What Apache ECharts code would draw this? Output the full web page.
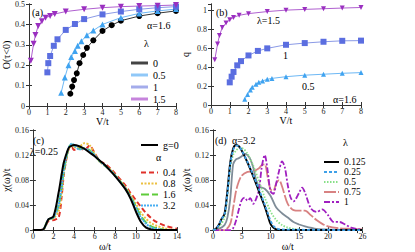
<!DOCTYPE html>
<html><head><meta charset="utf-8">
<script src="https://cdn.jsdelivr.net/npm/echarts@6/dist/echarts.min.js"></script>
<style>html,body{margin:0;padding:0;background:#fff}#c{width:415px;height:252px}</style>
</head><body><div id="c"></div>
<script>
// ---- Panel (a): O(tau<0) vs V/t ----
const aV0 = [2.25,2.35,2.45,2.6,2.75,2.95,3.15,3.5,4,4.5,5,6,7,8];
const aO0 = [0.06,0.095,0.127,0.16,0.21,0.25,0.285,0.322,0.368,0.396,0.418,0.441,0.455,0.466];
const aV05 = [1.75,1.95,2.15,2.3,2.5,2.65,2.85,3.15,3.5,4,5,6,7,8];
const aO05 = [0.065,0.14,0.2,0.24,0.27,0.295,0.318,0.347,0.37,0.4,0.433,0.454,0.466,0.475];
const aV1 = [1,1.05,1.15,1.35,1.55,2,2.5,3,4,5,6,7,8];
const aO1 = [0.165,0.21,0.245,0.295,0.327,0.373,0.402,0.426,0.449,0.463,0.474,0.482,0.487];
const aV15 = [0.1,0.25,0.35,0.5,0.7,0.9,1.15,1.4,2,3,4,5,6,7,8];
const aO15 = [0.222,0.305,0.348,0.392,0.416,0.433,0.441,0.451,0.463,0.474,0.482,0.487,0.49,0.492,0.495];
// ---- Panel (b): q vs V/t ----
const bV15 = [0.2,0.35,0.45,0.6,0.8,1,1.2,1.5,2,3,4,5,6,7,8];
const bQ15 = [0.48,0.645,0.737,0.82,0.868,0.903,0.928,0.95,0.968,0.99,1.005,1.013,1.02,1.027,1.033];
const bV1 = [1,1.1,1.2,1.4,1.6,2,2.5,3,4,5,6,7,8];
const bQ1 = [0.24,0.3,0.35,0.42,0.465,0.525,0.573,0.6,0.638,0.656,0.67,0.68,0.682];
const bV05 = [1.8,1.95,2.1,2.2,2.4,2.55,2.75,3,3.25,4,5,6,7,8];
const bQ05 = [0.06,0.112,0.16,0.188,0.22,0.24,0.255,0.272,0.282,0.3,0.316,0.326,0.336,0.343];
// ---- Panel (c): chi(omega)/t, lambda=0.25 ----
const cW = [0,0.5,1,1.5,2,2.5,2.8,3,3.3,3.5,3.8,4,4.5,5,5.5,6,6.5,7,7.5,8,9,9.5,10,10.5,11,11.5,12,13,14];
const cG0 = [0,0,0.001,0.017,0.022,0.06,0.09,0.108,0.124,0.132,0.135,0.136,0.134,0.13,0.124,0.118,0.111,0.104,0.095,0.086,0.065,0.05,0.03,0.013,0.004,0.001,0,0,0];
const cA04 = [0,0,0.001,0.014,0.016,0.02,0.055,0.088,0.118,0.13,0.132,0.128,0.131,0.128,0.135,0.123,0.11,0.106,0.099,0.09,0.071,0.059,0.048,0.037,0.027,0.019,0.013,0.006,0.002];
const cA08 = [0,0,0.001,0.016,0.019,0.03,0.06,0.09,0.118,0.13,0.134,0.132,0.133,0.139,0.136,0.122,0.109,0.103,0.097,0.088,0.068,0.056,0.042,0.028,0.018,0.011,0.007,0.002,0];
const cA16 = [0,0,0.001,0.017,0.02,0.04,0.07,0.095,0.12,0.132,0.137,0.135,0.13,0.131,0.128,0.12,0.11,0.103,0.096,0.087,0.067,0.053,0.038,0.022,0.012,0.006,0.003,0,0];
const cA32 = [0,0,0.001,0.017,0.02,0.04,0.07,0.095,0.121,0.133,0.138,0.136,0.129,0.13,0.127,0.12,0.11,0.103,0.096,0.087,0.066,0.052,0.036,0.02,0.01,0.004,0.002,0,0];
// ---- Panel (d): chi(omega)/t, alpha=3.2 ----
const dW0125 = [0,0.5,1,1.5,2,2.5,3,3.5,4,4.5,5,6,7,8,9,9.5,10,10.5,11,12,26];
const dC0125 = [0,0.002,0.008,0.018,0.026,0.062,0.108,0.13,0.136,0.134,0.127,0.108,0.086,0.062,0.038,0.024,0.01,0.004,0.001,0,0];
const dC025 = [0,0.002,0.008,0.018,0.025,0.058,0.105,0.128,0.135,0.134,0.127,0.109,0.088,0.065,0.041,0.028,0.015,0.007,0.003,0.001,0];
const dW05 = [0,1,2,2.5,3,3.5,4,4.5,5,6,7,8,9,10,11,12,13,14,16,26];
const dC05 = [0,0.005,0.02,0.055,0.1,0.12,0.127,0.131,0.131,0.122,0.103,0.078,0.052,0.03,0.016,0.008,0.004,0.002,0,0];
const dWg = [0,1,2,2.5,3,3.5,4,4.5,5,5.5,6,6.5,7,7.5,8,9,10,11,12,13,14,15,16,18,20,26];
const dCg = [0,0.002,0.008,0.02,0.05,0.105,0.113,0.115,0.118,0.122,0.12,0.113,0.1,0.08,0.07,0.066,0.055,0.036,0.027,0.02,0.013,0.009,0.006,0.002,0.001,0];
const dW075 = [0,2,3,3.5,4,4.5,5,6,7,8,8.5,9,9.5,10,10.5,11,11.5,12,13,14,15,16,17,18,19,20,22,24,26];
const dC075 = [0,0,0.01,0.035,0.062,0.078,0.087,0.093,0.094,0.099,0.104,0.105,0.085,0.065,0.063,0.075,0.08,0.07,0.042,0.032,0.031,0.031,0.024,0.016,0.01,0.006,0.003,0.002,0.001];
const dW1 = [0,3,3.5,4,4.5,5,5.5,6,6.5,7,7.5,8,8.5,9,9.5,10,10.5,11,11.5,12,12.5,13,13.5,14,15,15.5,16,17,18,19,20,21,22,23,24,25,26];
const dC1 = [0,0,0.003,0.015,0.033,0.048,0.052,0.047,0.051,0.042,0.05,0.065,0.102,0.12,0.095,0.062,0.058,0.075,0.095,0.11,0.1,0.072,0.052,0.046,0.06,0.068,0.06,0.035,0.029,0.033,0.024,0.013,0.013,0.009,0.004,0.002,0.001];

const F = 'Liberation Serif';
const zip = (a, b) => a.map((v, i) => [v, b[i]]);

const grids = [
  {left: 29, top: 4, width: 147, height: 102},
  {left: 211, top: 4, width: 150, height: 101},
  {left: 29, top: 130, width: 148, height: 102},
  {left: 213, top: 130, width: 149.5, height: 102}
];
const axLine = {lineStyle: {color: '#333', width: 1}};
const tick = {inside: true, length: 3, lineStyle: {color: '#333'}};
function xPair(g, min, max, interval, name) {
  return [
    {type: 'value', gridIndex: g, min, max, interval, position: 'bottom',
     name, nameLocation: 'middle', nameGap: 9,
     nameTextStyle: {fontFamily: F, fontSize: 10, color: '#000'},
     axisLine: axLine, axisTick: tick, splitLine: {show: false},
     axisLabel: {fontFamily: F, fontSize: 8, color: '#222', margin: 2, showMinLabel: true, showMaxLabel: true}},
    {type: 'value', gridIndex: g, min, max, interval, position: 'top',
     axisLine: axLine, axisTick: tick, splitLine: {show: false}, axisLabel: {show: false}}
  ];
}
function yPair(g, min, max, interval, name, gap, extra) {
  return [
    {type: 'value', gridIndex: g, min, max, interval, position: 'left',
     name, nameLocation: 'middle', nameGap: gap, nameRotate: 90,
     nameTextStyle: {fontFamily: F, fontSize: 10, color: '#000'},
     axisLine: axLine, axisTick: tick, splitLine: {show: false},
     axisLabel: Object.assign({fontFamily: F, fontSize: 8, color: '#222', margin: 4}, extra || {})},
    {type: 'value', gridIndex: g, min, max, interval, position: 'right',
     axisLine: axLine, axisTick: tick, splitLine: {show: false}, axisLabel: {show: false}}
  ];
}

function mk(g, name, xs, ys, lineColor, markColor, symbol, size, rot) {
  return {type: 'line', name, xAxisIndex: 2 * g, yAxisIndex: 2 * g, data: zip(xs, ys),
    symbol, symbolSize: size, symbolRotate: rot || 0, showSymbol: true,
    lineStyle: {color: lineColor, width: 1}, itemStyle: {color: markColor}, z: 3};
}
function cv(g, name, xs, ys, color, width, dash) {
  return {type: 'line', name, xAxisIndex: 2 * g, yAxisIndex: 2 * g, data: zip(xs, ys),
    symbol: 'none', smooth: 0.3, lineStyle: {color, width, type: dash || 'solid'},
    itemStyle: {color}};
}

const series = [
  mk(0, 'a:0', aV0, aO0, '#333', '#000', 'circle', 6),
  mk(0, 'a:0.5', aV05, aO05, '#6db8f5', '#3fa3f0', 'triangle', 6),
  mk(0, 'a:1', aV1, aO1, '#8b9ae6', '#5b6ee0', 'rect', 6),
  mk(0, 'a:1.5', aV15, aO15, '#b060d0', '#9a2fc0', 'triangle', 6, 180),
  mk(1, 'b:1.5', bV15, bQ15, '#b060d0', '#9a2fc0', 'triangle', 5, 180),
  mk(1, 'b:1', bV1, bQ1, '#8b9ae6', '#5b6ee0', 'rect', 6),
  mk(1, 'b:0.5', bV05, bQ05, '#6db8f5', '#3fa3f0', 'triangle', 5),
  cv(2, 'c:0.4', cW, cA04, '#e0302a', 2, [5, 3]),
  cv(2, 'c:0.8', cW, cA08, '#ecc040', 2, [2, 1.5]),
  cv(2, 'c:1.6', cW, cA16, '#5ecc3a', 2, [8, 3]),
  cv(2, 'c:3.2', cW, cA32, '#48aef2', 2, [2, 1]),
  cv(2, 'c:g=0', cW, cG0, '#000', 2),
  cv(3, 'd:0.6', dWg, dCg, '#7f8c98', 1.8),
  cv(3, 'd:0.75', dW075, dC075, '#d88282', 1.8, [12, 2]),
  cv(3, 'd:1', dW1, dC1, '#a020c0', 1.8, [6, 2, 2, 2]),
  cv(3, 'd:0.5', dW05, dC05, '#88e088', 1.8, [1.5, 1.5]),
  cv(3, 'd:0.125', dW0125, dC0125, '#000', 2),
  cv(3, 'd:0.25', dW0125, dC025, '#3ea0e8', 1.8, [3, 2])
];

const lt = {fontFamily: F, fontSize: 10, color: '#000'};
const fmt = n => n.split(':')[1];
const legends = [
  {left: 126, top: 52, orient: 'vertical', icon: 'rect', itemWidth: 17, itemHeight: 3, itemGap: 0,
   textStyle: Object.assign({lineHeight: 12}, lt), formatter: fmt, selectedMode: false,
   data: [{name: 'a:0', itemStyle: {color: '#444'}}, {name: 'a:0.5', itemStyle: {color: '#90c8f8'}},
          {name: 'a:1', itemStyle: {color: '#a4aceb'}}, {name: 'a:1.5', itemStyle: {color: '#c684dc'}}]},
  {left: 135, top: 134, orient: 'vertical', itemWidth: 17, itemHeight: 1, itemGap: 0,
   itemStyle: {opacity: 0},
   textStyle: Object.assign({lineHeight: 12}, lt), formatter: fmt, selectedMode: false, data: ['c:g=0']},
  {left: 135, top: 162, orient: 'vertical', itemWidth: 17, itemHeight: 1, itemGap: 0,
   itemStyle: {opacity: 0},
   textStyle: Object.assign({lineHeight: 11}, lt), formatter: fmt, selectedMode: false,
   data: ['c:0.4', 'c:0.8', 'c:1.6', 'c:3.2']},
  {left: 318, top: 152, orient: 'vertical', itemWidth: 15, itemHeight: 1, itemGap: 0,
   itemStyle: {opacity: 0},
   textStyle: {fontFamily: F, fontSize: 9.5, color: '#000', lineHeight: 9.8}, formatter: fmt, selectedMode: false,
   data: ['d:0.125', 'd:0.25', 'd:0.5', 'd:0.75', 'd:1']}
];

function t(text, x, y, size) {
  return {type: 'text', x, y, style: {text, fill: '#000', font: (size || 10) + 'px "Liberation Serif"', textVerticalAlign: 'middle', textAlign: 'left'}, z: 10};
}
const graphics = [
  t('(a)', 32, 12), t('α=1.6', 147, 25), t('λ', 144, 43),
  t('(b)', 216, 12), t('λ=1.5', 257, 20), t('1', 283, 55), t('0.5', 302, 86), t('α=1.6', 333, 99),
  t('(c)', 33, 140), t('λ=0.25', 30, 151), t('α', 156, 157),
  t('(d)', 215, 140), t('α=3.2', 232, 140), t('λ', 343, 142)
];

const chart = echarts.init(document.getElementById('c'), null, {renderer: 'svg', width: 415, height: 252});
chart.setOption({
  animation: false,
  grid: grids,
  xAxis: [].concat(xPair(0, 0, 8, 1, 'V/t'), xPair(1, 0, 8, 1, 'V/t'), xPair(2, 0, 14, 2, 'ω/t'), xPair(3, 0, 26, 5, 'ω/t')),
  yAxis: [].concat(yPair(0, 0, 0.5, 0.1, 'O(τ<0)', 16), yPair(1, 0, 1.07, 0.2, 'q', 21, {showMaxLabel: false}),
                   yPair(2, 0, 0.16, 0.04, 'χ(ω)/t', 18), yPair(3, 0, 0.16, 0.04, 'χ(ω)/t', 18)),
  legend: legends,
  series,
  graphic: graphics
});
</script></body></html>
